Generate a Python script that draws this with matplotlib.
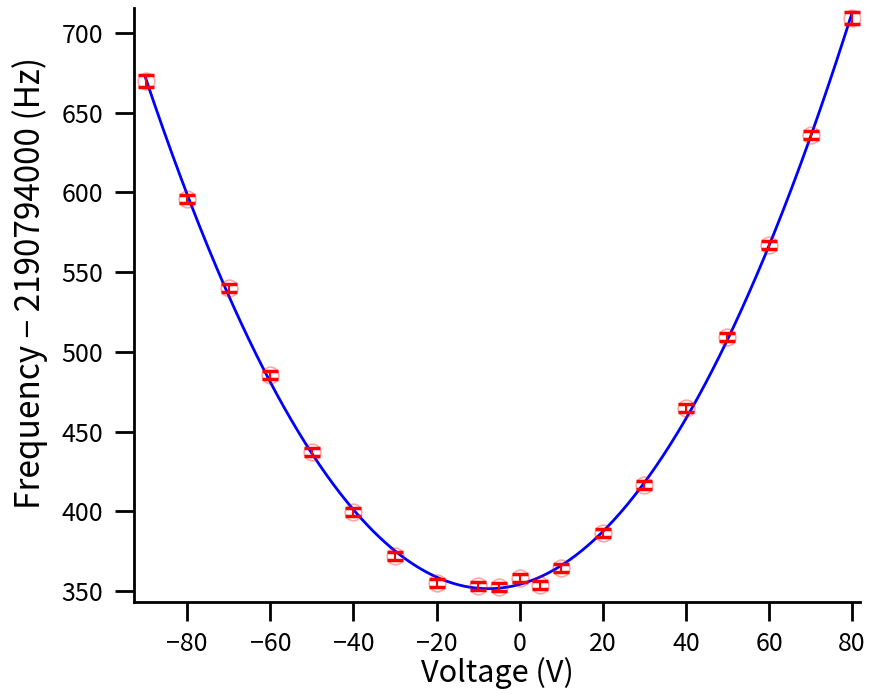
import numpy as np
import matplotlib
matplotlib.use("Agg")
import matplotlib.pyplot as plt

plt.rcParams['font.family'] = ['Noto Sans CJK JP', 'DejaVu Sans']

voltage = [-90, -80, -70, -60, -50, -40, -30, -20, -10, -5, 0, 5, 10, 20, 30, 40, 50, 60, 70, 80]
freq = [669.9, 595.9, 540.0, 485.4, 437.1, 399.5, 372.0, 355.0, 353.0, 352.5, 358.0, 353.7, 364.4, 386.3, 416.4, 464.7, 509.3, 567.0, 636.0, 709.4]
freq_err = [4, 2.5, 2.5, 2.5, 2.5, 2.5, 2.5, 2.5, 2.5, 2.5, 2.5, 2.5, 2.5, 2.5, 2.5, 2.5, 2.5, 2.5, 2.5, 4]

fig = plt.figure(figsize=(8.69, 6.94), dpi=100)
ax = fig.add_axes([0.1542, 0.1326, 0.836, 0.856])

coef = np.polyfit(voltage, freq, 2)
xf = np.linspace(-90, 80, 400)
ax.plot(xf, np.polyval(coef, xf), color='#0000ff', lw=2, zorder=2)

ax.plot(voltage, freq, 'o', ms=12, mfc='none', mec=(1, 0, 0, 0.35), mew=1.2, zorder=3)
ax.errorbar(voltage, freq, yerr=freq_err, fmt='none', ecolor='red', elinewidth=1.5,
            capsize=6, capthick=2.5, zorder=4)

ax.set_xlim(-92.8, 82)
ax.set_ylim(343.1, 715.7)
ax.set_xticks([-80, -60, -40, -20, 0, 20, 40, 60, 80])
ax.set_yticks([350, 400, 450, 500, 550, 600, 650, 700])
ax.xaxis.set_major_formatter(matplotlib.ticker.FuncFormatter(lambda v, p: f"{int(v)}".replace('-', '\u2212')))
for s in ['top', 'right']:
    ax.spines[s].set_visible(False)
for s in ['left', 'bottom']:
    ax.spines[s].set_linewidth(2)
ax.tick_params(axis='x', length=14, width=2, labelsize=18, pad=7)
ax.tick_params(axis='y', length=14, width=2, labelsize=18, pad=8)
ax.set_xlabel('Voltage (V)', fontsize=22, labelpad=0)
ax.set_ylabel('Frequency \u2212 2190794000 (Hz)', fontsize=24)
ax.yaxis.set_label_coords(-0.118, 0.537)

fig.savefig('out.png', dpi=100)
